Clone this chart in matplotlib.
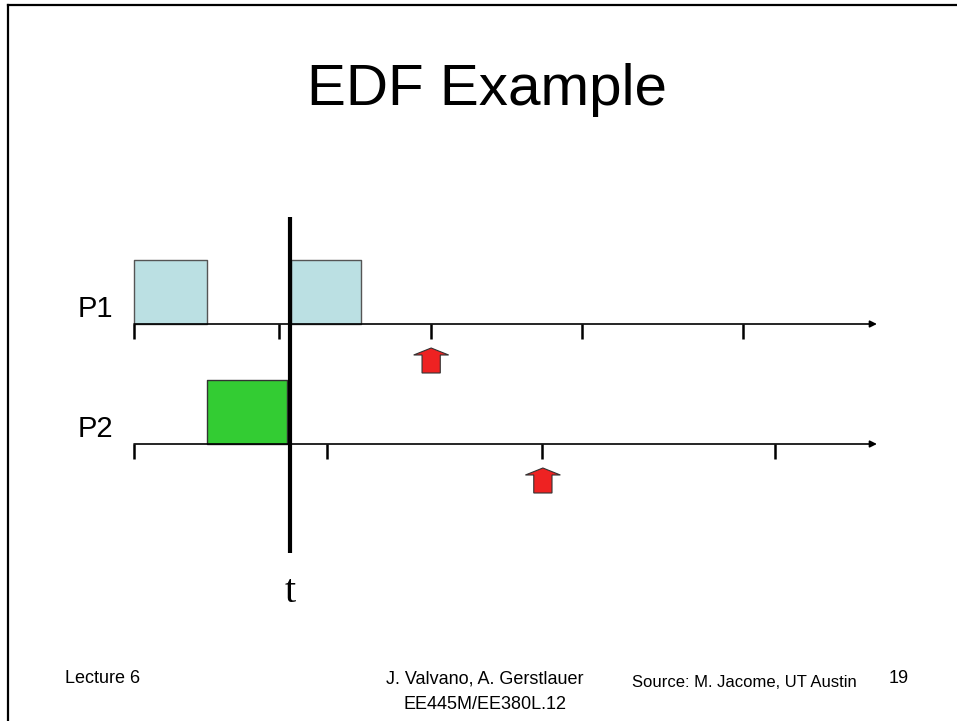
import numpy as np
import matplotlib
matplotlib.use('Agg')
import matplotlib.pyplot as plt
from matplotlib.patches import Polygon
from matplotlib.lines import Line2D

# time values (1 unit ~ 38 px, 0 = start of the axes)
p1_ticks = [0.0, 3.82, 7.82, 11.79, 16.03]
p2_ticks = [0.0, 5.08, 10.74, 16.87]
p1_jobs = [(0.0, 1.92), (4.13, 1.84)]
p2_jobs = [(1.92, 2.11)]
p1_deadline = 7.82
p2_deadline = 10.76
t_now = 4.11
axis_end = 19.55

W, H = 957, 721
PX = 38.0      # pixels per time unit
X0 = 134       # pixel x of time 0

plt.rcParams['font.family'] = ['Liberation Sans', 'DejaVu Sans']

fig = plt.figure(figsize=(W / 100, H / 100), dpi=100)
ax = fig.add_axes([0, 0, 1, 1])
ax.set_xlim(-X0 / PX, (W - X0) / PX)
ax.set_ylim(H, 0)
ax.axis('off')


def fx(x):
    return x / W


def fy(y):
    return 1 - y / H


# slide border (top and left only visible)
fig.add_artist(Line2D([fx(8), 1], [fy(5), fy(5)], color='black', lw=1.6))
fig.add_artist(Line2D([fx(8), fx(8)], [fy(5), 0], color='black', lw=1.6))

fig.text(fx(487), fy(105), 'EDF Example', ha='center', va='baseline',
         fontsize=42)

rows = [
    ('P1', 324, p1_ticks, p1_jobs, '#BBE0E3', '#555555', p1_deadline),
    ('P2', 444, p2_ticks, p2_jobs, '#33CC33', '#333333', p2_deadline),
]

box_h = 64
for name, ybase, ticks, jobs, fc, ec, dl in rows:
    ax.broken_barh(jobs, (ybase - box_h, box_h), facecolors=fc,
                   edgecolors=ec, linewidth=1.0, zorder=2)
    ax.annotate('', xy=(axis_end, ybase), xytext=(0, ybase),
                arrowprops=dict(arrowstyle='-|>', color='black', lw=1.2,
                                mutation_scale=10, shrinkA=0, shrinkB=0),
                zorder=3)
    ax.vlines(ticks, ybase, ybase + 15, colors='black', lw=1.8, zorder=3)
    fig.text(fx(113), fy(ybase - 7), name, ha='right', va='baseline',
             fontsize=21)
    # deadline marker: block arrow pointing up
    hw, sw = 0.46, 0.24
    top, hb, bot = ybase + 24, ybase + 31, ybase + 49
    verts = [(dl, top), (dl + hw, hb), (dl + sw, hb), (dl + sw, bot),
             (dl - sw, bot), (dl - sw, hb), (dl - hw, hb)]
    ax.add_patch(Polygon(verts, closed=True, facecolor='#EE2222',
                         edgecolor='#333333', lw=0.8, zorder=3))

ax.vlines(t_now, 217, 553, colors='black', lw=3.0, zorder=4)
fig.text(fx(X0 + t_now * PX), fy(602), 't', ha='center', va='baseline',
         fontsize=29, family=['Liberation Serif', 'DejaVu Serif'])

# footer
fig.text(fx(65), fy(683), 'Lecture 6', ha='left', va='baseline', fontsize=13)
fig.text(fx(485), fy(683), 'J. Valvano, A. Gerstlauer', ha='center',
         va='baseline', fontsize=13)
fig.text(fx(485), fy(709), 'EE445M/EE380L.12', ha='center', va='baseline',
         fontsize=13)
fig.text(fx(632), fy(687), 'Source: M. Jacome, UT Austin', ha='left',
         va='baseline', fontsize=12)
fig.text(fx(889), fy(683), '19', ha='left', va='baseline', fontsize=13)

fig.savefig('out.png', dpi=100)
